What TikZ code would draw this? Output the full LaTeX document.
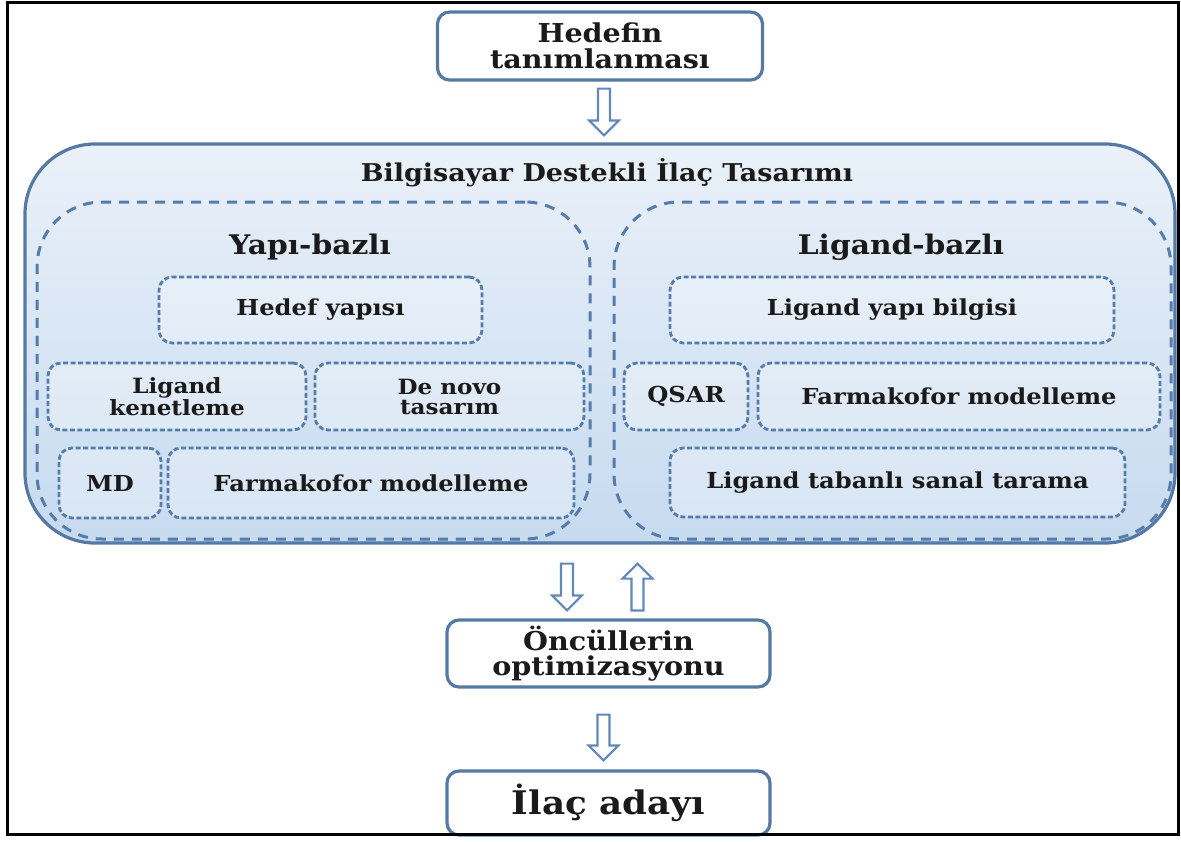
\documentclass[tikz,border=0pt]{standalone}
\usepackage{fontspec}
\setmainfont{DejaVu Serif}[FakeStretch=1.1]
\usepackage{tikz}
\usetikzlibrary{calc, positioning}

\definecolor{boxblue}{HTML}{5579A3}
\definecolor{dashblue}{HTML}{567CAA}
\definecolor{arrowblue}{HTML}{6288B8}
\definecolor{shadetop}{HTML}{EAF1F9}
\definecolor{shadebot}{HTML}{C6DAEF}
\definecolor{inktext}{HTML}{1A1A1A}

\begin{document}
\begin{tikzpicture}[x=1pt, y=-1pt, inner sep=0pt, text=inktext,
  mainbox/.style={rectangle, draw=boxblue, line width=3.2pt, fill=white, rounded corners=12pt},
  caddbox/.style={rectangle, draw=boxblue, line width=3.2pt, rounded corners=70pt, top color=shadetop, bottom color=shadebot},
  groupbox/.style={rectangle, draw=dashblue, line width=3pt, dash pattern=on 10pt off 8pt, rounded corners=65pt},
  itembox/.style={rectangle, draw=dashblue, line width=2.8pt, dash pattern=on 5pt off 2.5pt, rounded corners=13pt, fill=white, fill opacity=0.3, text opacity=1, align=center},
  hollow/.style={draw=arrowblue, fill=white, line width=2.2pt, line join=miter,
    to path={let \p1=(\tikztostart), \p2=(\tikztotarget), \n1={(\y2>\y1)*2-1} in
      ({\x1-6pt},\y1) -- ({\x1-6pt},{\y2-\n1*15pt}) -- ({\x1-15pt},{\y2-\n1*15pt}) -- ({\x1},\y2)
      -- ({\x1+15pt},{\y2-\n1*15pt}) -- ({\x1+6pt},{\y2-\n1*15pt}) -- ({\x1+6pt},\y1) -- cycle}},
  bigfont/.style={font=\bfseries\fontsize{26}{25.5}\selectfont},
  headfont/.style={font=\bfseries\fontsize{24.5}{24}\selectfont},
  groupfont/.style={font=\bfseries\fontsize{27}{27}\selectfont},
  midfont/.style={font=\bfseries\fontsize{22}{22}\selectfont},
  smallfont/.style={font=\bfseries\fontsize{21}{20}\selectfont}]
\useasboundingbox (0,0) rectangle (1181,841);

% top of the flow
\node[mainbox, minimum width=325, minimum height=68, bigfont, align=center] (hedef) at (600,46) {Hedefin\\tanımlanması};

% computer aided design block
\node[caddbox, minimum width=1150, minimum height=399] (cadd) at (600,343.5) {};
\node[headfont] (caddtitle) at (607,173) {Bilgisayar Destekli İlaç Tasarımı};

\node[groupbox, minimum width=553, minimum height=337] (yapi) at (313.5,370.5) {};
\node[groupbox, minimum width=557, minimum height=337] (ligand) at (892.5,370.5) {};
\node[groupfont] (yapititle) at (310,247) {Yapı-bazlı};
\node[groupfont] (ligandtitle) at (901,247) {Ligand-bazlı};

% structure based
\node[itembox, minimum width=323, minimum height=66, midfont] (hedefyapi) at (320.5,310) {Hedef yapısı};
\node[itembox, minimum width=258, minimum height=67, smallfont] (kenet) at (177,396.5) {Ligand\\kenetleme};
\node[itembox, minimum width=269, minimum height=67, smallfont] (denovo) at (449.5,396.5) {De novo\\tasarım};
\node[itembox, minimum width=102, minimum height=70, midfont] (md) at (110,483) {MD};
\node[itembox, minimum width=406, minimum height=70, midfont] (farmaL) at (371,483) {Farmakofor modelleme};

% ligand based
\node[itembox, minimum width=444, minimum height=66, midfont] (ligyapi) at (892,310) {Ligand yapı bilgisi};
\node[itembox, minimum width=124, minimum height=67, midfont] (qsar) at (686,396.5) {QSAR};
\node[itembox, minimum width=402, minimum height=67, midfont] (farmaR) at (959,396.5) {Farmakofor modelleme};
\node[itembox, minimum width=455, minimum height=69, midfont] (tarama) at (897.5,482.5) {Ligand tabanlı sanal tarama};

% bottom of the flow
\node[mainbox, minimum width=323, minimum height=67, font=\bfseries\fontsize{26}{25}\selectfont, align=center] (opt) at (608.5,653.5) {Öncüllerin\\optimizasyonu};
\node[mainbox, minimum width=323, minimum height=64, font=\bfseries\fontsize{32.5}{32}\selectfont] (aday) at (608.5,803) {İlaç adayı};

% arrows
\draw[hollow] ([xshift=4pt,yshift=-7pt]hedef.south) to ([yshift=7pt]cadd.north);
\draw[hollow] ([xshift=-33pt,yshift=-19pt]cadd.south) to ([yshift=8pt]opt.north);
\draw[hollow] ([xshift=29pt,yshift=8pt]opt.north) to ([yshift=-19pt]cadd.south);
\draw[hollow] ([xshift=-5pt,yshift=-26pt]opt.south) to ([yshift=9pt]aday.north);

\draw[black, line width=3pt] (7,2) rectangle (1178,834);
\end{tikzpicture}
\end{document}
